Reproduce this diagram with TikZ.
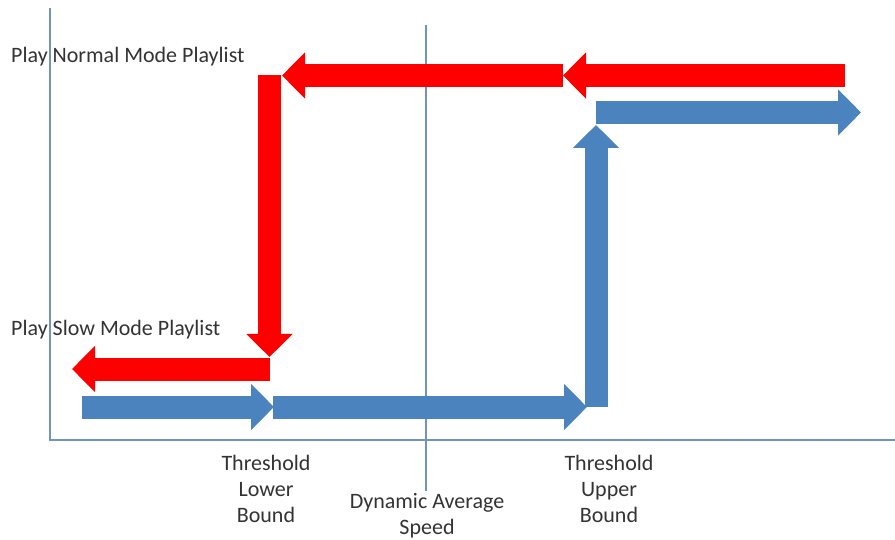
\documentclass[tikz,border=0pt]{standalone}
\usepackage{fontspec}
\setmainfont{Carlito}
\usetikzlibrary{arrows.meta}
\definecolor{redarrow}{HTML}{FF0000}
\definecolor{bluearrow}{HTML}{4A83BD}
\definecolor{axiscol}{HTML}{6F93C2}
\definecolor{txt}{HTML}{333333}
\tikzset{
  fatarrow/.style={line width=23pt, line cap=butt, -{Triangle[width=45pt,length=23pt]}},
  redfat/.style={fatarrow, draw=redarrow, fill=redarrow},
  bluefat/.style={fatarrow, draw=bluearrow, fill=bluearrow},
  axisline/.style={draw=axiscol, line width=1.3pt},
  lbl/.style={text=txt, inner sep=0pt, font=\fontsize{22}{26}\selectfont},
}
\begin{document}
\begin{tikzpicture}[x=1pt,y=-1pt]
\useasboundingbox (0,0) rectangle (895,540);
% axes
\coordinate (ytop) at (50,8);
\coordinate (origin) at (50,440);
\coordinate (xend) at (895,440);
\coordinate (dtop) at (426,25);
\coordinate (dbot) at (426,491);
\draw[axisline] (ytop) -- (origin) -- (xend);
\draw[axisline] (dtop) -- (dbot);
% red path
\coordinate (r1s) at (845,75.5);
\coordinate (r1e) at (563,75.5);
\coordinate (r2e) at (282,75.5);
\coordinate (r3s) at (269.5,75);
\coordinate (r3e) at (269.5,357);
\coordinate (r4s) at (270,369);
\coordinate (r4e) at (72,369);
\draw[redfat] (r1s) -- (r1e);
\draw[redfat] (r1e) -- (r2e);
\draw[redfat] (r3s) -- (r3e);
\draw[redfat] (r4s) -- (r4e);
% blue path
\coordinate (b1s) at (82,407);
\coordinate (b1e) at (274,407);
\coordinate (b2s) at (273,407);
\coordinate (b2e) at (587,407);
\coordinate (b3s) at (596,407);
\coordinate (b3e) at (596,125);
\coordinate (b4s) at (596,112.5);
\coordinate (b4e) at (861,112.5);
\draw[bluefat] (b1s) -- (b1e);
\draw[bluefat] (b2s) -- (b2e);
\draw[bluefat] (b3s) -- (b3e);
\draw[bluefat] (b4s) -- (b4e);
% labels
\node[lbl, anchor=base west] (normal) at (11,62.5) {Play Normal Mode Playlist};
\node[lbl, anchor=base west] (slow) at (11,335) {Play Slow Mode Playlist};
\node[lbl, anchor=base, align=center] (lower) at (266,522.5) {Threshold\\Lower\\Bound};
\node[lbl, anchor=base, align=center] (upper) at (609,522.5) {Threshold\\Upper\\Bound};
\node[lbl, anchor=base, align=center] (speed) at (427,534) {Dynamic Average\\Speed};
\end{tikzpicture}
\end{document}
